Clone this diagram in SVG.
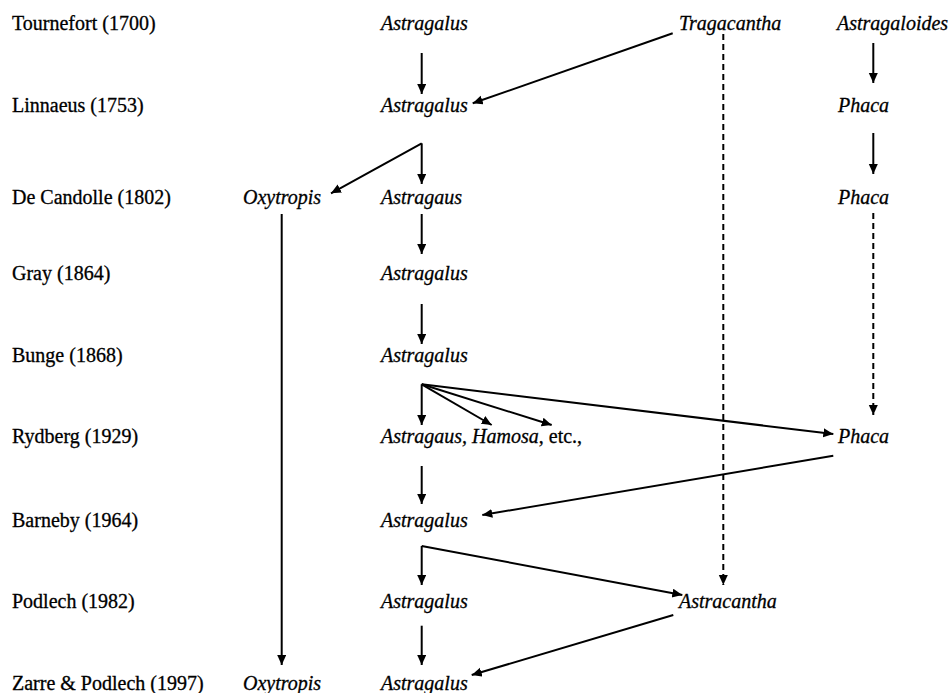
<svg xmlns="http://www.w3.org/2000/svg" width="951" height="693" viewBox="0 0 951 693">
<style>
text{font-family:"Liberation Serif","Times New Roman",serif;font-size:20px;fill:#000;stroke:#000;stroke-width:0.3}
.i{font-style:italic}
.c{stroke:#000;stroke-width:2;fill:none;marker-end:url(#ah)}
.d{stroke-dasharray:6 4}
</style>
<defs>
<marker id="ah" markerUnits="userSpaceOnUse" markerWidth="12" markerHeight="10" refX="10" refY="4.5" orient="auto">
<path d="M0,0 L10,4.5 L0,9 z" fill="#000"/>
</marker>
</defs>
<rect width="951" height="693" fill="#fff"/>
<g id="labels">
<text x="12" y="30">Tournefort (1700)</text>
<text x="12" y="112">Linnaeus (1753)</text>
<text x="12" y="204">De Candolle (1802)</text>
<text x="12" y="280">Gray (1864)</text>
<text x="12" y="362">Bunge (1868)</text>
<text x="12" y="443">Rydberg (1929)</text>
<text x="12" y="527">Barneby (1964)</text>
<text x="12" y="608">Podlech (1982)</text>
<text x="12" y="690">Zarre &amp; Podlech (1997)</text>
</g>
<g id="n-astragalus-1700"><text class="i" x="381" y="30">Astragalus</text></g>
<g id="n-tragacantha"><text class="i" x="679" y="30">Tragacantha</text></g>
<g id="n-astragaloides"><text class="i" x="837" y="30">Astragaloides</text></g>
<g id="n-astragalus-1753"><text class="i" x="381" y="112">Astragalus</text></g>
<g id="n-phaca-1753"><text class="i" x="838" y="112">Phaca</text></g>
<g id="n-oxytropis-1802"><text class="i" x="243" y="204">Oxytropis</text></g>
<g id="n-astragaus-1802"><text class="i" x="381" y="204">Astragaus</text></g>
<g id="n-phaca-1802"><text class="i" x="838" y="204">Phaca</text></g>
<g id="n-astragalus-1864"><text class="i" x="381" y="280">Astragalus</text></g>
<g id="n-astragalus-1868"><text class="i" x="381" y="362">Astragalus</text></g>
<g id="n-astragaus-1929"><text x="381" y="443"><tspan class="i">Astragaus, Hamosa</tspan>, etc.,</text></g>
<g id="n-phaca-1929"><text class="i" x="838" y="443">Phaca</text></g>
<g id="n-astragalus-1964"><text class="i" x="381" y="527">Astragalus</text></g>
<g id="n-astragalus-1982"><text class="i" x="381" y="608">Astragalus</text></g>
<g id="n-astracantha"><text class="i" x="679" y="608">Astracantha</text></g>
<g id="n-oxytropis-1997"><text class="i" x="243" y="690">Oxytropis</text></g>
<g id="n-astragalus-1997"><text class="i" x="381" y="690">Astragalus</text></g>
<g id="connectors">
<line class="c" x1="421.7" y1="53" x2="421.7" y2="94"/>
<line class="c" x1="672.7" y1="33.3" x2="472.7" y2="103.3"/>
<line class="c d" x1="723.3" y1="34" x2="723.3" y2="585"/>
<line class="c" x1="873.3" y1="43" x2="873.3" y2="83"/>
<line class="c" x1="873.3" y1="133" x2="873.3" y2="174"/>
<line class="c d" x1="873.3" y1="213" x2="873.3" y2="415"/>
<line class="c" x1="421.7" y1="143.3" x2="421.7" y2="184"/>
<line class="c" x1="421.7" y1="143.3" x2="331" y2="193.3"/>
<line class="c" x1="281.7" y1="214" x2="281.7" y2="665"/>
<line class="c" x1="421.7" y1="214" x2="421.7" y2="254"/>
<line class="c" x1="421.7" y1="304" x2="421.7" y2="344"/>
<line class="c" x1="421.7" y1="384.3" x2="421.7" y2="425"/>
<line class="c" x1="421.7" y1="384.3" x2="491.7" y2="425"/>
<line class="c" x1="421.7" y1="384.3" x2="551.7" y2="425"/>
<line class="c" x1="421.7" y1="384.3" x2="833.3" y2="434"/>
<line class="c" x1="421.7" y1="466" x2="421.7" y2="504"/>
<line class="c" x1="833.3" y1="455.7" x2="482.3" y2="515"/>
<line class="c" x1="421.7" y1="546" x2="421.7" y2="585"/>
<line class="c" x1="421.7" y1="546" x2="682.3" y2="595"/>
<line class="c" x1="421.7" y1="625.7" x2="421.7" y2="665"/>
<line class="c" x1="673.3" y1="615" x2="471.7" y2="675"/>
</g>
</svg>
